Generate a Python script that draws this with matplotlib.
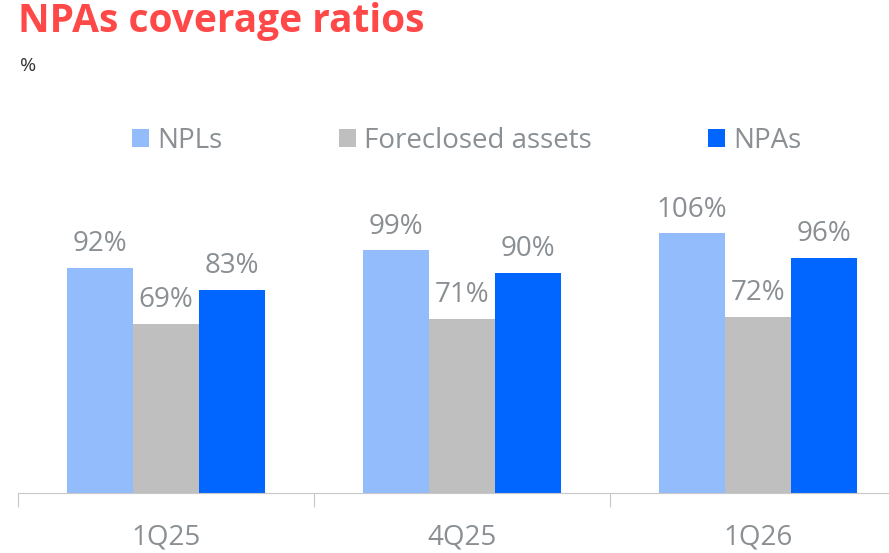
import matplotlib.pyplot as plt
import numpy as np

plt.rcParams['font.family'] = ['Open Sans', 'DejaVu Sans']

periods = ["1Q25", "4Q25", "1Q26"]
npls = [92, 99, 106]
foreclosed = [69, 71, 72]
npas = [83, 90, 96]

series = [("NPLs", npls, "#92bcfc"),
          ("Foreclosed assets", foreclosed, "#bfbfbf"),
          ("NPAs", npas, "#0066ff")]

grey_txt = "#8a8f93"

fig = plt.figure(figsize=(8.89, 5.53), dpi=100)
# axes spans a bit past right edge, like the cropped original
ax = fig.add_axes([18 / 889, (553 - 493) / 553, 888 / 889, 150 * 2.45 / 553])

x = np.arange(len(periods))
w = 66 / 296
for i, (name, vals, col) in enumerate(series):
    pos = x + (i - 1) * w
    ax.bar(pos, vals, width=w, color=col, label=name)
    for p, v in zip(pos, vals):
        ax.annotate(f"{v}%", (p, v), xytext=(0, 7), textcoords="offset points",
                    ha="center", va="bottom", fontsize=20, color=grey_txt)

ax.set_xlim(-0.5, 2.5)
ax.set_ylim(0, 150)
for s in ["top", "right", "left"]:
    ax.spines[s].set_visible(False)
ax.spines["bottom"].set_color("#c8c8c8")
ax.set_yticks([])
ax.set_xticks([-0.5, 0.5, 1.5, 2.5])
ax.set_xticklabels([])
ax.tick_params(axis="x", length=10, color="#c8c8c8")
ax.set_xticks(x, minor=True)
ax.set_xticklabels(periods, minor=True)
ax.tick_params(axis="x", which="minor", length=0, pad=22, labelsize=20, labelcolor=grey_txt)

leg = fig.legend(loc="upper left", bbox_to_anchor=(132 / 889, 1 - 127 / 553), ncol=3,
                 frameon=False, fontsize=20, handlelength=0.6, handleheight=0.6,
                 handletextpad=0.3, columnspacing=4.2, borderpad=0, borderaxespad=0)
for t in leg.get_texts():
    t.set_color(grey_txt)

fig.text(18 / 889, 1 - 2 / 553, "NPAs coverage ratios", fontsize=28, fontweight="bold",
         color="#ff4848", ha="left", va="top")
fig.text(20 / 889, 1 - 57 / 553, "%", fontsize=14, color="#333333", ha="left", va="top")

fig.savefig("out.png", dpi=100)
